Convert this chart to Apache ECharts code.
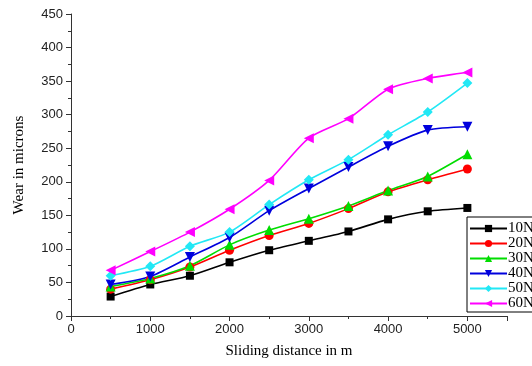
<!DOCTYPE html>
<html lang="en">
<head>
    <meta charset="UTF-8">
    <title>Wear vs sliding distance</title>
    <script src="https://cdn.jsdelivr.net/npm/echarts@6/dist/echarts.min.js"></script>
    <style type="text/css">
        html, body { margin: 0; height: 100%; background: #fff; }
    </style>
</head>
<body>
<div id="main" style="width: 532px;height:366px;"></div>
<script>
    // sliding distance (m)
    const distance = [500, 1000, 1500, 2000, 2500, 3000, 3500, 4000, 4500, 5000];
    // wear (microns) per load
    const wear10N = [29, 47, 60, 80, 98, 112, 126, 144, 156, 161];
    const wear20N = [40, 54, 73, 98, 120, 138, 160, 185, 203, 219];
    const wear30N = [44, 56, 75, 106, 128, 145, 164, 187, 208, 241];
    const wear40N = [47, 59, 88, 117, 157, 190, 222, 253, 277, 282];
    const wear50N = [60, 74, 104, 125, 166, 203, 233, 270, 304, 347];
    const wear60N = [68, 96, 125, 159, 202, 265, 294, 338, 354, 363];

    const loads = ['10N', '20N', '30N', '40N', '50N', '60N'];
    const colors = ['#000000', '#ff0000', '#00dd00', '#0000dd', '#22e8f5', '#ff00ff'];
    const symbols = ['rect', 'circle', 'triangle', 'triangle', 'diamond', 'triangle'];
    const rotations = [0, 0, 0, 180, 0, 90];
    const sizes = [8, 9, 10, 10, 10, 10];
    const allData = [wear10N, wear20N, wear30N, wear40N, wear50N, wear60N];

    const myChart = echarts.init(document.getElementById('main'), null, {renderer: 'canvas'});

    const axisText = {color: '#222', fontFamily: 'Liberation Sans', fontSize: 13};

    const option = {
        animation: false,
        grid: {left: 71, right: 25, top: 14, bottom: 50},
        legend: {
            orient: 'vertical',
            left: 467,
            top: 217,
            padding: [4, 6, 1, 2],
            itemGap: 0,
            itemWidth: 37,
            itemHeight: 9,
            borderColor: '#000',
            borderWidth: 1,
            backgroundColor: '#fff',
            textStyle: {fontFamily: 'Liberation Serif', fontSize: 15, color: '#000', padding: [0, 0, 0, -4]},
            data: loads
        },
        xAxis: {
            type: 'value',
            min: 0,
            max: 5500,
            interval: 1000,
            name: 'Sliding distance in m',
            nameLocation: 'middle',
            nameGap: 28,
            nameTextStyle: {fontFamily: 'Liberation Serif', fontSize: 15, color: '#000'},
            axisLine: {lineStyle: {color: '#333'}},
            axisTick: {length: 5, lineStyle: {color: '#333'}},
            minorTick: {show: true, splitNumber: 2, length: 3, lineStyle: {color: '#333'}},
            splitLine: {show: false},
            axisLabel: Object.assign({
                showMaxLabel: false,
                margin: 7,
                formatter: function (v) { return String(v); }
            }, axisText)
        },
        yAxis: {
            type: 'value',
            min: 0,
            max: 450,
            interval: 50,
            name: 'Wear in microns',
            nameLocation: 'middle',
            nameGap: 44,
            nameTextStyle: {fontFamily: 'Liberation Serif', fontSize: 15, color: '#000'},
            axisLine: {show: true, lineStyle: {color: '#333'}},
            axisTick: {show: true, length: 5, lineStyle: {color: '#333'}},
            minorTick: {show: true, splitNumber: 2, length: 3, lineStyle: {color: '#333'}},
            splitLine: {show: false},
            axisLabel: Object.assign({margin: 8}, axisText)
        },
        series: loads.map(function (name, i) {
            return {
                name: name,
                type: 'line',
                smooth: 0.25,
                symbol: symbols[i],
                symbolRotate: rotations[i],
                symbolSize: sizes[i],
                showAllSymbol: true,
                itemStyle: {color: colors[i]},
                lineStyle: {color: colors[i], width: 1.6},
                data: distance.map(function (d, j) { return [d, allData[i][j]]; })
            };
        })
    };

    myChart.setOption(option);
</script>
</body>
</html>
